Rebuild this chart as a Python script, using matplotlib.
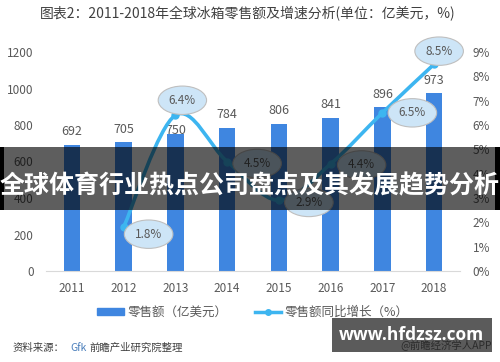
import matplotlib.pyplot as plt
from matplotlib.path import Path
from matplotlib.patches import PathPatch, Rectangle, Patch
from matplotlib.lines import Line2D

plt.rcParams['font.family'] = ['Noto Sans CJK SC', 'DejaVu Sans']

# 数据
years = ['2011', '2012', '2013', '2014', '2015', '2016', '2017', '2018']
sales = [692, 705, 750, 784, 806, 841, 896, 973]            # 亿美元
growth_years = ['2012', '2013', '2014', '2015', '2016', '2017', '2018']
growth = [1.8, 6.4, 4.5, 2.9, 4.4, 6.5, 8.5]                # %
left_ticks = [0, 200, 400, 600, 800, 1000, 1200]
right_ticks = [0, 1, 2, 3, 4, 5, 6, 7, 8, 9]

# 样式
bar_color = '#3F86E0'
line_color = '#3DB5F0'
txt_gray = '#595959'
W, H = 500, 362
label_offsets = [(25, -7), (7, 15), (30, -2), (30, -2), (31, -1), (30, 0), (5, 13)]
bar_label_gap = [13, 13, 4, 13, 13, 13, 13, 13]   # 数值标签离柱顶的像素


def fx(px):
    return px / W


def fy(py):
    return 1 - py / H


def smooth_path(xs, ys):
    # 平滑曲线 (Catmull-Rom -> 贝塞尔)
    pts = list(zip(xs, ys))
    n = len(pts)
    verts = [pts[0]]
    codes = [Path.MOVETO]
    for i in range(n - 1):
        p0 = pts[i - 1] if i > 0 else pts[i]
        p1, p2 = pts[i], pts[i + 1]
        p3 = pts[i + 2] if i + 2 < n else p2
        c1 = (p1[0] + (p2[0] - p0[0]) / 6, p1[1] + (p2[1] - p0[1]) / 6)
        c2 = (p2[0] - (p3[0] - p1[0]) / 6, p2[1] - (p3[1] - p1[1]) / 6)
        verts += [c1, c2, p2]
        codes += [Path.CURVE4] * 3
    return Path(verts, codes)


fig = plt.figure(figsize=(5, 3.62), dpi=100)
ax = fig.add_axes([fx(46), fy(271), fx(460) - fx(46), fy(52) - fy(271)])
ax2 = ax.twinx()

x = list(range(len(years)))
ax.bar(x, sales, width=0.32, color=bar_color, zorder=2)
for xi, v, gap in zip(x, sales, bar_label_gap):
    ax.annotate(str(v), (xi, v), xytext=(0, gap), textcoords='offset pixels',
                ha='center', va='center', fontsize=9, color=txt_gray)

ax.set_xlim(-0.5, len(years) - 0.5)
ax.set_ylim(0, 1200)
ax.set_xticks(x)
ax.set_xticklabels(years)
ax.set_yticks(left_ticks)
ax.tick_params(axis='both', length=0, colors=txt_gray, labelsize=8.5)
ax.tick_params(axis='y', pad=9)
ax.tick_params(axis='x', pad=8)
for s in ['top', 'left', 'right']:
    ax.spines[s].set_visible(False)
ax.spines['bottom'].set_color('#D9D9D9')

# 增长率折线
gx = [years.index(y) for y in growth_years]
ax2.add_patch(PathPatch(smooth_path(gx, growth), fill=False, edgecolor=line_color,
                        lw=2.6, zorder=3, clip_on=False))
ax2.plot(gx, growth, 'o', color=line_color, ms=5, zorder=4, clip_on=False)
for xi, v, off in zip(gx, growth, label_offsets):
    ax2.annotate(f'{v}%', (xi, v), xytext=off, textcoords='offset pixels',
                 ha='center', va='center', fontsize=8.5, color=txt_gray,
                 annotation_clip=False, zorder=5,
                 bbox=dict(boxstyle='ellipse,pad=0.3', fc='#CDE5F7', ec='#BFBFBF', lw=0.8))
ax2.set_ylim(0, 9)
ax2.set_yticks(right_ticks)
ax2.set_yticklabels([f'{t}%' for t in right_ticks])
ax2.tick_params(axis='y', length=0, colors=txt_gray, labelsize=8.5, pad=9)
for s in ax2.spines.values():
    s.set_visible(False)

# 标题
fig.text(0.496, fy(14), '图表2：2011-2018年全球冰箱零售额及增速分析(单位：亿美元，%)',
         ha='center', va='center', fontsize=10, color='#404040')

# 图例
handles = [Patch(color=bar_color),
           Line2D([], [], color=line_color, lw=2.5, marker='o', ms=4)]
fig.legend(handles, ['零售额（亿美元）', '零售额同比增长（%）'], loc='center',
           bbox_to_anchor=(fx(253), fy(312)), ncol=2, frameon=False, fontsize=9,
           handlelength=2.1, handleheight=0.5, handletextpad=0.3, columnspacing=2.2,
           labelcolor=txt_gray)

# 来源
fig.text(fx(13), fy(348), '资料来源：', fontsize=7.5, color='#404040', va='center')
fig.text(fx(70), fy(348), 'Gfk', fontsize=7.5, color='#4A7EBB', va='center')
fig.text(fx(89), fy(348), '前瞻产业研究院整理', fontsize=7.5, color='#404040', va='center')
fig.text(fx(492), fy(345), '@前瞻经济学人APP', fontsize=7.5, color='#404040',
         ha='right', va='center')

# 横幅遮罩
fig.add_artist(Rectangle((0, fy(210)), 1, fy(147) - fy(210), transform=fig.transFigure,
                         fc='black', alpha=0.63, ec='none', zorder=5))
fig.add_artist(Rectangle((0, fy(210)), fx(4), fy(147) - fy(210), transform=fig.transFigure,
                         fc='black', ec='none', zorder=5))
fig.add_artist(Rectangle((fx(495), fy(210)), fx(5), fy(147) - fy(210), transform=fig.transFigure,
                         fc='black', ec='none', zorder=5))
fig.text(0.5, fy(186), '全球体育行业热点公司盘点及其发展趋势分析', ha='center', va='center',
         color='white', fontsize=18, fontweight='bold', zorder=6)

# 网址水印
fig.add_artist(Rectangle((fx(332), fy(352)), fx(492) - fx(332), fy(318) - fy(352),
                         transform=fig.transFigure, fc='#242424', alpha=0.75, ec='none', zorder=5))
fig.text(fx(411), fy(335), 'www.hfdzsz.com', ha='center', va='center', color='white',
         fontsize=12.5, fontweight='bold', family=['Open Sans', 'DejaVu Sans'], zorder=6)

fig.savefig('out.png', dpi=100)
